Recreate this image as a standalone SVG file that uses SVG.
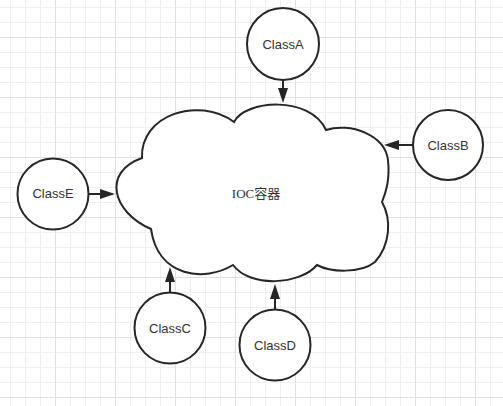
<svg xmlns="http://www.w3.org/2000/svg" width="503" height="406" viewBox="0 0 503 406">
  <style>
    .node { fill: #ffffff; stroke: #262626; stroke-width: 2; }
    .label { font-family: "Liberation Sans", "Noto Sans CJK SC", sans-serif; font-size: 13px; fill: #333333; text-anchor: middle; }
    .cloudlabel { font-family: "Liberation Serif", "Noto Sans CJK SC", serif; font-size: 13px; fill: #333333; text-anchor: middle; }
    .edge { stroke: #262626; stroke-width: 2; fill: none; marker-end: url(#arrow); }
  </style>
  <defs>
    <pattern id="grid" patternUnits="userSpaceOnUse" x="-5" y="-23" width="60" height="60">
      <rect x="15" y="0" width="1" height="60" fill="#efefef"/>
      <rect x="30" y="0" width="1" height="60" fill="#efefef"/>
      <rect x="45" y="0" width="1" height="60" fill="#efefef"/>
      <rect x="0" y="15" width="60" height="1" fill="#efefef"/>
      <rect x="0" y="30" width="60" height="1" fill="#efefef"/>
      <rect x="0" y="45" width="60" height="1" fill="#efefef"/>
      <rect x="0" y="0" width="1" height="60" fill="#e0e0e0"/>
      <rect x="0" y="0" width="60" height="1" fill="#e0e0e0"/>
    </pattern>
    <marker id="arrow" markerUnits="userSpaceOnUse" markerWidth="16" markerHeight="11" refX="0" refY="5" orient="auto">
      <path d="M0,0 L15,5 L0,10 Z" fill="#262626"/>
    </marker>
  </defs>
  <rect x="0" y="0" width="503" height="406" fill="#ffffff"/>
  <rect x="0" y="0" width="503" height="406" fill="url(#grid)"/>

  <g id="ioc">
    <path class="node" d="M142,158 C140,115 198,96 234,122 C245,100 310,95 326,130 C350,122 385,135 388,160 C390,180 386,192 382,202 C392,220 390,245 375,262 C360,274 330,272 317,265 C300,285 250,288 233,265 C205,282 158,278 151,229 C112,212 102,172 142,158 Z"/>
    <text class="cloudlabel" x="256" y="198">IOC容器</text>
  </g>

  <g id="classA">
    <circle class="node" cx="283" cy="44" r="36"/>
    <text class="label" x="283" y="49">ClassA</text>
  </g>
  <g id="classB">
    <circle class="node" cx="448" cy="145" r="35"/>
    <text class="label" x="448" y="150">ClassB</text>
  </g>
  <g id="classE">
    <circle class="node" cx="53" cy="194" r="35.5"/>
    <text class="label" x="53" y="198">ClassE</text>
  </g>
  <g id="classC">
    <circle class="node" cx="170" cy="328" r="35.5"/>
    <text class="label" x="170" y="333">ClassC</text>
  </g>
  <g id="classD">
    <circle class="node" cx="275" cy="345" r="35.5"/>
    <text class="label" x="275" y="350">ClassD</text>
  </g>

  <g id="connectors">
    <line class="edge" x1="283" y1="80" x2="283" y2="88"/>
    <line class="edge" x1="413" y1="145" x2="399" y2="145"/>
    <line class="edge" x1="88.5" y1="194" x2="100" y2="194"/>
    <line class="edge" x1="170" y1="292.5" x2="170" y2="282"/>
    <line class="edge" x1="275" y1="310" x2="275" y2="299"/>
  </g>
</svg>
